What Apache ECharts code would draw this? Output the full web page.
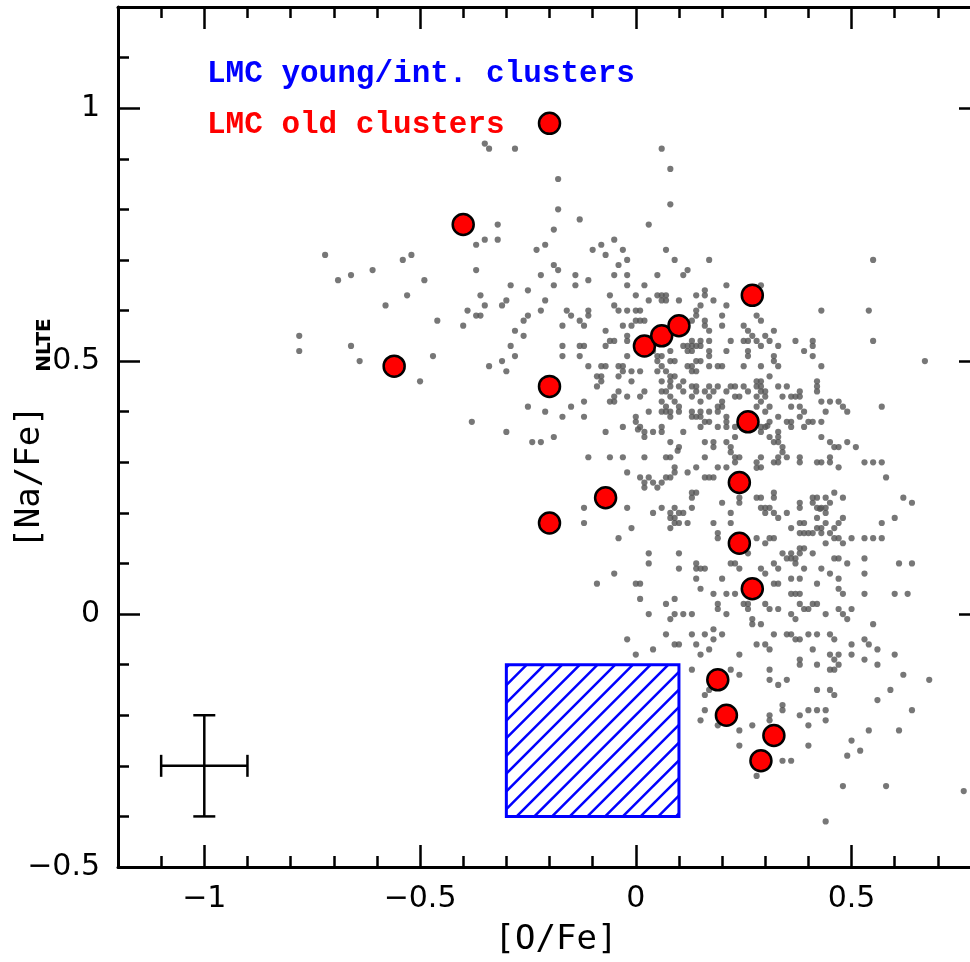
<!DOCTYPE html>
<html lang="en">
<head>
<meta charset="UTF-8">
<title>[Na/Fe] vs [O/Fe]</title>
<style>
    * { margin: 0; padding: 0; }
    body, html { width: 100%; height: 100%; background: #fff; }
    #main { width: 970px; height: 962px; }
</style>
</head>
<body>
<div id="main"></div>
<script src="https://cdn.jsdelivr.net/npm/echarts@6/dist/echarts.min.js"></script>
<script type="text/javascript">
// field stars, [O/Fe] , [Na/Fe]NLTE (gray dots)
var fieldStars = [
    [-0.35,0.93],[-0.34,0.92],[-0.28,0.92],[0.06,0.92],[0.08,0.88],[-0.18,0.86],[0.08,0.81],[-0.18,0.80],[-0.13,0.78],[0.03,0.77],[-0.32,0.77],[-0.35,0.74],[-0.37,0.73],[-0.32,0.74],[-0.19,0.76],[-0.21,0.73],[-0.23,0.72],[-0.05,0.74],[-0.08,0.73],[-0.10,0.72],[-0.07,0.71],[-0.03,0.72],[-0.02,0.70],[0.07,0.72],[0.09,0.70],
    [-0.72,0.71],[-0.54,0.70],[-0.52,0.71],[-0.61,0.68],[-0.66,0.67],[-0.69,0.66],[-0.49,0.66],[-0.37,0.68],[-0.19,0.69],[-0.18,0.68],[-0.22,0.67],[-0.14,0.67],[-0.11,0.66],[-0.04,0.69],[-0.05,0.67],[-0.02,0.67],[0.05,0.67],[-0.02,0.65],[-0.29,0.65],[-0.19,0.65],[-0.14,0.65],[-0.25,0.64],[-0.36,0.63],[0.00,0.63],[0.02,0.65],[-0.06,0.63],[0.05,0.63],[0.06,0.63],[0.03,0.62],[0.07,0.62],[0.10,0.62],
    [-0.53,0.63],[-0.58,0.61],[-0.30,0.62],[-0.31,0.61],[-0.35,0.61],[-0.21,0.62],[-0.05,0.61],[-0.02,0.60],[-0.04,0.60],[0.00,0.60],[-0.39,0.60],[-0.37,0.59],[-0.36,0.59],[-0.46,0.58],[-0.22,0.60],[-0.16,0.60],[-0.15,0.59],[-0.11,0.60],[-0.11,0.59],[-0.26,0.58],[-0.25,0.59],[-0.40,0.57],[-0.17,0.57],[-0.13,0.58],[-0.12,0.57],[-0.07,0.56],[-0.03,0.57],[-0.01,0.57],[0.00,0.58],[0.02,0.58],[0.01,0.58],[-0.28,0.56],
    [-0.78,0.55],[-0.78,0.52],[-0.66,0.53],[-0.64,0.50],[-0.47,0.51],[-0.50,0.46],[-0.26,0.55],[-0.29,0.53],[-0.28,0.51],[-0.34,0.49],[-0.31,0.50],[-0.30,0.48],[-0.17,0.53],[-0.13,0.53],[-0.12,0.53],[-0.17,0.51],[-0.13,0.51],[-0.11,0.49],[-0.06,0.54],[-0.05,0.54],[-0.07,0.53],[-0.02,0.54],[-0.02,0.51],[-0.08,0.49],[-0.08,0.47],[-0.09,0.47],[-0.08,0.46],[-0.09,0.45],[-0.04,0.49],[-0.03,0.49],[-0.03,0.48],[-0.04,0.47],[-0.01,0.46],[-0.01,0.48],[0.01,0.48],[-0.04,0.44],[-0.02,0.43],[-0.05,0.43],[-0.06,0.42],[0.01,0.43],[0.02,0.44],[-0.25,0.41],[-0.21,0.40],[-0.17,0.39],[-0.15,0.41],[-0.12,0.42],[-0.12,0.39],[0.00,0.39],[0.03,0.40],[0.06,0.46],[0.06,0.44],[0.07,0.44],[0.06,0.42],[0.07,0.41],[0.08,0.40],
    [0.12,0.68],[0.11,0.67],[0.07,0.63],[0.06,0.62],[0.14,0.63],[0.01,0.60],[0.14,0.60],[0.14,0.59],[-0.02,0.55],[0.03,0.52],[0.04,0.52],[0.05,0.51],[0.06,0.51],[0.05,0.50],[0.06,0.49],[0.05,0.48],[0.08,0.52],[0.08,0.50],[0.11,0.53],[0.12,0.52],[0.13,0.53],[0.13,0.54],[0.13,0.49],[0.14,0.50],[-0.07,0.49],[0.08,0.45],[0.07,0.48],[0.09,0.47],[0.11,0.46],[0.13,0.48],[0.14,0.48],
    [0.17,0.70],[0.55,0.70],[0.21,0.65],[0.29,0.65],[0.16,0.64],[0.16,0.63],[0.18,0.62],[0.21,0.61],[0.15,0.61],[0.20,0.59],[0.28,0.59],[0.29,0.58],[0.43,0.60],[0.54,0.60],[0.16,0.58],[0.16,0.57],[0.13,0.58],[0.20,0.57],[0.17,0.56],[0.25,0.57],[0.26,0.56],[0.27,0.55],[0.30,0.55],[0.32,0.56],[0.22,0.54],[0.25,0.54],[0.26,0.54],[0.28,0.54],[0.31,0.54],[0.33,0.53],[0.37,0.54],[0.41,0.54],[0.41,0.53],[0.55,0.54],[0.15,0.54],[0.17,0.54],[0.12,0.53],[0.13,0.52],[0.14,0.53],[0.15,0.53],[0.17,0.52],[0.17,0.51],[0.21,0.52],[0.26,0.52],[0.26,0.51],[0.29,0.53],[0.32,0.51],[0.32,0.50],[0.39,0.52],[0.41,0.51],[0.43,0.49],[0.33,0.49],[0.29,0.49],[0.25,0.49],[0.19,0.49],[0.20,0.49],[0.17,0.49],[0.15,0.50],[0.12,0.49],[0.09,0.50],[0.08,0.47],[0.31,0.47],[0.67,0.50],[0.42,0.46],[0.42,0.45],[0.33,0.45],[0.35,0.45],[0.28,0.46],[0.29,0.45],[0.22,0.45],[0.23,0.45],[0.26,0.44],[0.17,0.45],[0.19,0.45],[0.13,0.45],[0.10,0.45],
    [-0.05,0.42],[0.08,0.46],[0.08,0.43],[0.06,0.40],[0.07,0.40],[0.09,0.42],[0.10,0.41],[0.10,0.40],[0.11,0.44],[0.13,0.43],[0.14,0.44],[0.14,0.45],[0.15,0.42],[0.15,0.40],[0.17,0.40],[0.16,0.44],[0.17,0.43],[0.18,0.44],[0.19,0.41],[0.20,0.42],[0.21,0.44],[0.19,0.40],[0.20,0.41],[0.21,0.39],[0.23,0.43],[0.24,0.43],[0.25,0.45],[0.28,0.45],[0.29,0.46],[0.29,0.44],[0.30,0.43],[0.30,0.44],[0.28,0.43],[0.29,0.42],[0.28,0.41],[0.31,0.41],[0.30,0.40],[0.34,0.43],[0.36,0.43],[0.37,0.43],[0.36,0.41],[0.38,0.41],[0.38,0.44],[0.38,0.43],[0.42,0.44],[0.43,0.42],[0.45,0.42],[0.47,0.42],[0.48,0.41],[0.49,0.40],[0.44,0.40],[0.57,0.41],
    [-0.07,0.36],[-0.03,0.37],[0.00,0.38],[0.01,0.37],[0.005,0.365],[0.02,0.36],[0.02,0.35],[0.04,0.36],[0.06,0.37],[0.06,0.36],[0.08,0.34],[0.08,0.39],[0.10,0.33],[0.097,0.323],[0.11,0.36],[0.13,0.39],[0.13,0.40],[0.14,0.39],[0.15,0.39],[0.15,0.37],[0.16,0.38],[0.17,0.38],[0.16,0.34],[0.18,0.34],[0.18,0.33],[0.19,0.37],[0.21,0.38],[0.21,0.37],[0.21,0.34],[0.22,0.33],[0.22,0.32],[0.23,0.31],[0.24,0.31],[0.23,0.30],[0.23,0.35],[0.23,0.37],[0.29,0.37],[0.30,0.37],[0.305,0.372],[0.31,0.38],[0.29,0.36],[0.31,0.35],[0.32,0.34],[0.33,0.36],[0.33,0.35],[0.33,0.39],[0.35,0.38],[0.33,0.34],[0.34,0.33],[0.34,0.32],[0.35,0.31],[0.36,0.38],[0.36,0.37],[0.39,0.37],[0.40,0.38],[0.41,0.38],[0.43,0.38],[0.39,0.40],[0.38,0.39],[0.43,0.35],[0.45,0.34],[0.46,0.33],[0.47,0.33],[0.49,0.34],[0.51,0.33],[0.53,0.30],[0.55,0.30],[0.57,0.30],[0.58,0.27],[0.42,0.30],[0.43,0.30],[0.45,0.31],[0.45,0.30],[0.47,0.29],[0.38,0.30],[0.38,0.31],[0.33,0.31],[0.33,0.30],[0.32,0.30],[0.29,0.31],[0.28,0.30],[0.28,0.289],[0.29,0.29],[0.19,0.29],[0.21,0.29],[0.16,0.31],[0.14,0.29],[0.12,0.28],[0.09,0.29],[0.07,0.31],[0.08,0.31],[0.02,0.31],[-0.02,0.28],[-0.06,0.31],[-0.11,0.31],[-0.03,0.31],[0.01,0.27],[0.02,0.26],[0.03,0.27],[0.04,0.26],[0.06,0.26],[0.02,0.25],[0.05,0.25],[0.07,0.27],[0.08,0.27],[0.09,0.28],[0.13,0.24],[0.14,0.24],[0.13,0.23],[0.16,0.27],[0.17,0.27],[0.18,0.27],
    [-0.12,0.21],[-0.12,0.18],[-0.02,0.21],[-0.04,0.15],[-0.01,0.17],[0.04,0.20],[0.06,0.21],[0.08,0.20],[0.09,0.21],[0.10,0.20],[0.09,0.19],[0.08,0.19],[0.09,0.18],[0.10,0.18],[0.12,0.18],[0.08,0.17],[0.13,0.21],[0.11,0.20],[0.18,0.18],[0.19,0.16],[0.19,0.15],[0.20,0.22],[0.22,0.20],[0.22,0.18],[0.24,0.22],[0.24,0.23],[0.28,0.23],[0.29,0.23],[0.29,0.21],[0.30,0.21],[0.31,0.21],[0.30,0.20],[0.32,0.20],[0.32,0.23],[0.32,0.24],[0.35,0.20],[0.33,0.19],[0.36,0.17],[0.38,0.18],[0.39,0.18],[0.38,0.16],[0.39,0.16],[0.40,0.16],[0.41,0.16],[0.42,0.17],[0.43,0.16],[0.45,0.16],[0.42,0.19],[0.43,0.17],[0.44,0.18],[0.46,0.15],[0.47,0.15],[0.46,0.17],[0.47,0.18],[0.48,0.19],[0.44,0.21],[0.44,0.20],[0.427,0.208],[0.53,0.15],[0.55,0.15],[0.57,0.15],[0.50,0.15],[0.48,0.14],[0.44,0.14],[0.57,0.18],[0.60,0.19],[0.62,0.23],[0.64,0.22],[0.46,0.24],[0.48,0.23],[0.44,0.23],[0.45,0.22],[0.41,0.23],[0.42,0.23],[0.43,0.21],[0.42,0.21],[0.38,0.22],[0.38,0.21],[0.41,0.22],[0.30,0.14],[0.31,0.15],[0.32,0.15],[0.28,0.15],[0.26,0.12],
    [0.03,0.12],[0.03,0.10],[0.10,0.12],[0.10,0.09],[-0.05,0.08],[-0.09,0.06],[0.00,0.06],[0.01,0.06],[0.01,0.03],[0.03,0.00],[0.09,0.03],[0.07,0.02],[0.08,-0.01],[0.09,0.00],[0.11,0.00],[0.13,0.00],[0.14,0.10],[0.14,0.09],[0.15,0.09],[0.16,0.09],[0.14,0.07],[0.15,0.05],[0.18,0.04],[0.20,0.07],[0.19,0.02],[0.19,0.01],[0.21,0.00],[0.21,0.04],[0.23,0.04],[0.22,0.10],[0.23,0.10],[0.24,0.09],[0.29,0.09],[0.30,0.08],[0.32,0.06],[0.33,0.06],[0.32,0.10],[0.33,0.09],[0.34,0.12],[0.36,0.12],[0.36,0.11],[0.38,0.13],[0.39,0.13],[0.35,0.11],[0.37,0.10],[0.37,0.11],[0.38,0.12],[0.39,0.09],[0.36,0.07],[0.38,0.07],[0.41,0.12],[0.43,0.09],[0.45,0.08],[0.47,0.07],[0.46,0.11],[0.47,0.11],[0.49,0.10],[0.53,0.11],[0.53,0.08],[0.53,0.04],[0.47,0.05],[0.48,0.04],[0.42,0.06],[0.36,0.04],[0.37,0.04],[0.38,0.04],[0.38,0.02],[0.39,0.01],[0.40,0.01],[0.41,0.02],[0.42,0.02],[0.36,0.00],[0.37,-0.01],[0.33,0.01],[0.30,0.02],[0.31,0.01],[0.26,0.02],[0.26,0.01],[0.25,0.02],[0.29,-0.02],[0.27,-0.01],[0.27,-0.02],[0.44,0.00],[0.47,0.01],[0.48,0.00],[0.50,0.01],[0.49,-0.01],[0.55,-0.02],[0.60,0.04],[0.63,0.04],[0.61,0.10],[0.64,0.10],
    [-0.02,-0.05],[0.00,-0.08],[0.04,-0.07],[0.07,-0.04],[0.09,-0.06],[0.10,-0.06],[0.13,-0.04],[0.14,-0.06],[0.15,-0.08],[0.16,-0.04],[0.18,-0.03],[0.18,-0.05],[0.20,-0.04],[0.17,-0.07],[0.24,-0.08],[0.22,-0.11],[0.24,-0.12],[0.13,-0.11],[0.28,-0.06],[0.30,-0.06],[0.31,-0.07],[0.32,-0.04],[0.35,-0.04],[0.36,-0.04],[0.38,-0.05],[0.37,-0.05],[0.40,-0.04],[0.42,-0.04],[0.45,-0.04],[0.46,-0.05],[0.38,-0.09],[0.38,-0.10],[0.41,-0.07],[0.42,-0.10],[0.45,-0.08],[0.46,-0.09],[0.47,-0.08],[0.47,-0.10],[0.50,-0.08],[0.50,-0.06],[0.53,-0.05],[0.54,-0.06],[0.53,-0.09],[0.56,-0.10],[0.56,-0.07],[0.60,-0.08],[0.62,-0.12],[0.31,-0.11],
    [0.31,-0.13],[0.33,-0.14],[0.35,-0.13],[0.45,-0.11],[0.46,-0.11],[0.42,-0.15],[0.45,-0.15],[0.46,-0.16],[0.68,-0.13],[0.59,-0.15],[0.56,-0.17],[0.64,-0.19],[0.61,-0.23],[0.54,-0.23],[0.50,-0.25],[0.52,-0.27],[0.49,-0.28],[0.48,-0.34],[0.58,-0.34],[0.76,-0.35],[0.44,-0.41],[0.16,-0.16],[0.17,-0.15],[0.16,-0.19],[0.15,-0.21],[0.19,-0.22],[0.24,-0.23],[0.24,-0.26],[0.27,-0.22],[0.31,-0.20],[0.31,-0.21],[0.34,-0.18],[0.34,-0.19],[0.38,-0.20],[0.40,-0.19],[0.42,-0.19],[0.44,-0.19],[0.44,-0.21],[0.40,-0.22],[0.40,-0.26],[0.34,-0.29],[0.36,-0.29],[0.28,-0.32],
    [-0.38,0.38],[-0.30,0.36],[-0.24,0.34],[-0.22,0.34],[-0.19,0.35]
];

// LMC old clusters (red circles)
var oldClusters = [
    [-0.20,0.97],[-0.40,0.77],[-0.56,0.49],[-0.20,0.45],[-0.20,0.18],[-0.07,0.23],
    [0.02,0.53],[0.06,0.55],[0.10,0.57],[0.27,0.63],[0.26,0.38],[0.24,0.26],
    [0.24,0.14],[0.27,0.05],[0.19,-0.13],[0.21,-0.20],[0.32,-0.24],[0.29,-0.29]
];

// LMC young/intermediate clusters: hatched box [xmin, ymin, xmax, ymax]
var youngBox = [-0.3, -0.4, 0.1, -0.1];

// typical error: [x, y, xerr, yerr]
var typicalError = [-1, -0.3, 0.1, 0.1];

var xTicks = [-1, -0.5, 0, 0.5];
var yTicks = [-0.5, 0, 0.5, 1];

var myChart = echarts.init(document.getElementById('main'));

function minus(v) {
    return String(v).replace('-', '\u2212');
}

var fontFam = '"DejaVu Sans", Verdana, sans-serif';
var titleFam = '"DejaVu Sans Mono", monospace';
var lineStyle = {color: '#000', width: 3};
var tickStyle = {color: '#000', width: 2.5};
var labelStyle = {color: '#000', fontSize: 30, fontFamily: fontFam, formatter: minus};

function makeAxis(pos, range, major, labels) {
    var ax = {
        type: 'value',
        position: pos,
        min: range[0],
        max: range[1],
        axisLine: {show: major, onZero: false, lineStyle: lineStyle},
        splitLine: {show: false},
        axisTick: {show: true, inside: true, length: major ? 22 : 11, lineStyle: tickStyle},
        axisLabel: {show: false}
    };
    var vals = (pos === 'bottom' || pos === 'top') ? xTicks : yTicks;
    if (major) {
        ax.axisTick.customValues = vals;
        if (labels) {
            ax.axisLabel = echarts.util.extend({show: true, customValues: vals, margin: (pos === 'bottom') ? 17 : 18}, labelStyle);
        }
    } else {
        ax.interval = 0.1;
    }
    return ax;
}

var option = {
    animation: false,
    backgroundColor: '#fff',
    grid: {left: 118, right: -11, top: 7, bottom: 95, containLabel: false, outerBoundsMode: 'none'},
    xAxis: [
        makeAxis('bottom', [-1.2, 0.8], true, true),
        makeAxis('bottom', [-1.2, 0.8], false, false),
        makeAxis('top', [-1.2, 0.8], true, false),
        makeAxis('top', [-1.2, 0.8], false, false)
    ],
    yAxis: [
        makeAxis('left', [-0.5, 1.2], true, true),
        makeAxis('left', [-0.5, 1.2], false, false),
        makeAxis('right', [-0.5, 1.2], true, false),
        makeAxis('right', [-0.5, 1.2], false, false)
    ],
    graphic: [
        {type: 'text', x: 207, y: 74, style: {text: 'LMC young/int. clusters', fill: '#0000ff', font: 'bold 31px "Liberation Mono", monospace', align: 'left', verticalAlign: 'middle'}},
        {type: 'text', x: 207, y: 125, style: {text: 'LMC old clusters', fill: '#ff0000', font: 'bold 31px "Liberation Mono", monospace', align: 'left', verticalAlign: 'middle'}},
        {type: 'text', x: 556, y: 940, style: {text: '[O/Fe]', fill: '#000', font: '34px ' + titleFam, align: 'center', verticalAlign: 'middle'}},
        {type: 'text', x: 30, y: 477, rotation: Math.PI / 2, style: {text: '[Na/Fe]', fill: '#000', font: '34px ' + titleFam, align: 'center', verticalAlign: 'middle'}},
        {type: 'text', x: 45, y: 345, rotation: Math.PI / 2, style: {text: 'NLTE', fill: '#000', font: 'bold 20px ' + fontFam, align: 'center', verticalAlign: 'middle'}}
    ],
    series: [
        {
            name: 'field',
            type: 'scatter',
            xAxisIndex: 0,
            yAxisIndex: 0,
            data: fieldStars,
            symbol: 'circle',
            symbolSize: 6.2,
            itemStyle: {color: '#555555'},
            silent: true,
            z: 2
        },
        {
            name: 'young/int.',
            type: 'custom',
            xAxisIndex: 0,
            yAxisIndex: 0,
            data: [youngBox],
            z: 3,
            silent: true,
            renderItem: function (params, api) {
                var bl = api.coord([api.value(0), api.value(1)]);
                var tr = api.coord([api.value(2), api.value(3)]);
                var x0 = bl[0], y1 = bl[1], x1 = tr[0], y0 = tr[1];
                var step = 17.7;
                var base = x0 + y1 - 7.4;
                var cStart = x0 + y0, cEnd = x1 + y1;
                var k = Math.ceil((cStart - base) / step);
                var children = [];
                for (var c = base + k * step; c < cEnd; c += step) {
                    var xa = Math.max(x0, c - y1);
                    var xb = Math.min(x1, c - y0);
                    if (xb > xa) {
                        children.push({
                            type: 'line',
                            shape: {x1: xa, y1: c - xa, x2: xb, y2: c - xb},
                            style: {stroke: '#0000ff', lineWidth: 2.5}
                        });
                    }
                }
                children.push({
                    type: 'rect',
                    shape: {x: x0, y: y0, width: x1 - x0, height: y1 - y0},
                    style: {fill: null, stroke: '#0000ff', lineWidth: 3}
                });
                return {type: 'group', children: children};
            }
        },
        {
            name: 'error',
            type: 'custom',
            xAxisIndex: 0,
            yAxisIndex: 0,
            data: [typicalError],
            z: 3,
            silent: true,
            renderItem: function (params, api) {
                var x = api.value(0), y = api.value(1), dx = api.value(2), dy = api.value(3);
                var l = api.coord([x - dx, y]), r = api.coord([x + dx, y]);
                var t = api.coord([x, y + dy]), b = api.coord([x, y - dy]);
                var cap = 11;
                var st = {stroke: '#000', lineWidth: 2.5};
                return {
                    type: 'group',
                    children: [
                        {type: 'line', shape: {x1: l[0], y1: l[1], x2: r[0], y2: r[1]}, style: st},
                        {type: 'line', shape: {x1: t[0], y1: t[1], x2: b[0], y2: b[1]}, style: st},
                        {type: 'line', shape: {x1: l[0], y1: l[1] - cap, x2: l[0], y2: l[1] + cap}, style: st},
                        {type: 'line', shape: {x1: r[0], y1: r[1] - cap, x2: r[0], y2: r[1] + cap}, style: st},
                        {type: 'line', shape: {x1: t[0] - cap, y1: t[1], x2: t[0] + cap, y2: t[1]}, style: st},
                        {type: 'line', shape: {x1: b[0] - cap, y1: b[1], x2: b[0] + cap, y2: b[1]}, style: st}
                    ]
                };
            }
        },
        {
            name: 'LMC old clusters',
            type: 'scatter',
            xAxisIndex: 0,
            yAxisIndex: 0,
            data: oldClusters,
            symbol: 'circle',
            symbolSize: 21,
            itemStyle: {color: '#ff0000', borderColor: '#000', borderWidth: 2.5, opacity: 1},
            z: 5
        }
    ]
};

myChart.setOption(option);
</script>
</body>
</html>
